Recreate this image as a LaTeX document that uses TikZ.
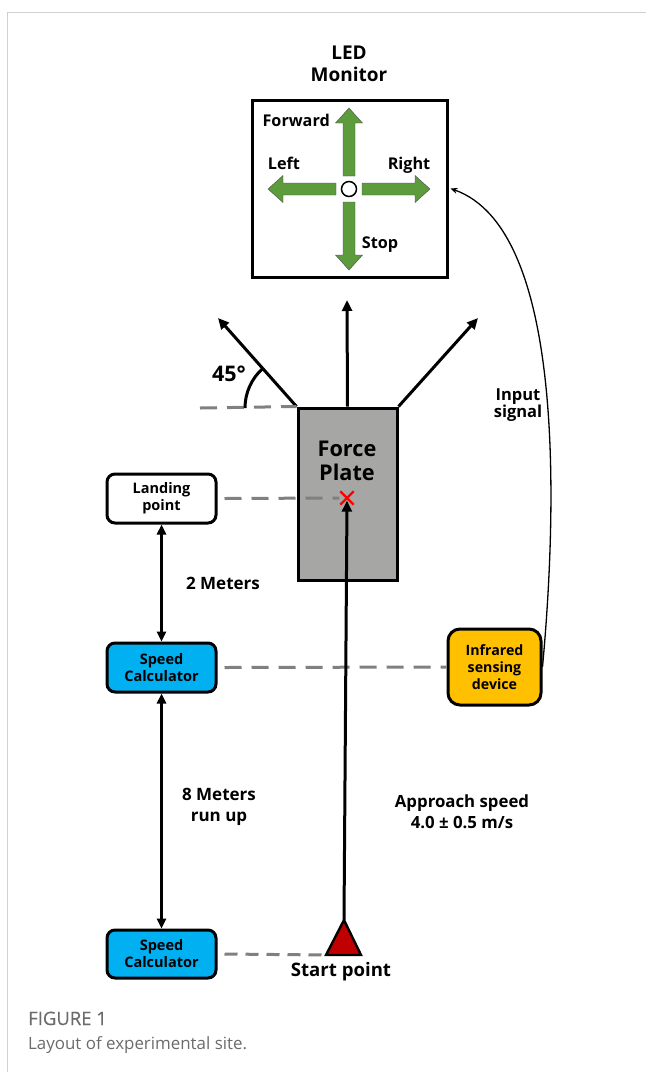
\documentclass[tikz,border=0pt]{standalone}
\usepackage{fontspec}
\setmainfont{Open Sans}
\usetikzlibrary{arrows.meta}
\definecolor{arrowgreen}{HTML}{5C9C3C}
\definecolor{plategray}{HTML}{A6A6A5}
\definecolor{speedblue}{HTML}{00B0F0}
\definecolor{irorange}{HTML}{FFC000}
\definecolor{startred}{HTML}{C00000}
\definecolor{dashgray}{HTML}{808080}
\definecolor{framegray}{HTML}{D0D0D0}
\definecolor{capgray}{HTML}{6B6B6B}
\tikzset{
  lbl/.style={font=\bfseries\fontsize{16.2}{18}\selectfont, inner sep=0pt, align=center},
  boxlbl/.style={font=\bfseries\fontsize{14.5}{17}\selectfont, align=center, inner sep=0pt},
  rbox/.style={draw, line width=3pt, rounded corners=8pt, minimum width=109pt, minimum height=49pt, boxlbl},
  dashline/.style={draw=dashgray, line width=3pt, dash pattern=on 17pt off 10pt},
  darrow/.style={line width=2.4pt, {Triangle[length=10pt,width=9pt]}-{Triangle[length=10pt,width=9pt]}},
  sarrow/.style={line width=3pt, -{Triangle[length=11pt,width=10pt]}},
  greenarrow/.style={fill=arrowgreen, draw=black!70, line width=0.4pt},
}
\begin{document}
\begin{tikzpicture}[x=1pt,y=-1pt]
\useasboundingbox (0,0) rectangle (646,1072);
% frame
\draw[framegray, line width=1pt] (7,1072) -- (7,12.5) -- (646,12.5);

% LED monitor
\node[lbl, font=\bfseries\fontsize{19}{22}\selectfont] (ledtitle) at (349,64) {LED\\Monitor};
\node[draw, line width=3pt, minimum width=195pt, minimum height=177pt, inner sep=0pt] (mon) at (349.5,188.5) {};
\node[draw, line width=1.5pt, circle, minimum size=15pt, inner sep=0pt, fill=white] (ctr) at (349,189) {};
% block arrows
\foreach \ang in {0,90,180,270}{
  \begin{scope}[shift={(349,189)}, rotate=\ang]
    \path[greenarrow] (13,-6) -- (66,-6) -- (66,-13.5) -- (81,0) -- (66,13.5) -- (66,6) -- (13,6) -- cycle;
  \end{scope}
}
\node[lbl, anchor=base east] (fwd) at (330,126) {Forward};
\node[lbl, anchor=base] (left) at (284,169) {Left};
\node[lbl, anchor=base] (right) at (409,169) {Right};
\node[lbl, anchor=base] (stop) at (380,248) {Stop};

% force plate
\node[draw, fill=plategray, line width=3pt, minimum width=99pt, minimum height=172pt, inner sep=0pt] (plate) at (347.5,494) {};
\node[lbl, font=\bfseries\fontsize{21.7}{24}\selectfont] (platelbl) at (347,461) {Force\\Plate};
\node[minimum size=13pt, inner sep=0pt] (cross) at (347,498) {};
\draw[red, line width=2.4pt] (cross.north west) -- (cross.south east) (cross.north east) -- (cross.south west);

% direction arrows from plate
\coordinate (tipL) at (218,318);
\coordinate (tipM) at (347,300);
\coordinate (tipR) at (478,318);
\draw[sarrow] (plate.north west) -- (tipL);
\draw[sarrow] (plate.north) -- (tipM);
\draw[sarrow] (plate.north east) -- (tipR);
\coordinate (dashL) at (200,408);
\draw[dashline] (dashL) -- (plate.north west);
\draw[line width=3pt] (245,408) arc[start angle=180, end angle=228.4, radius=53];
\node[lbl, font=\bfseries\fontsize{21.5}{22}\selectfont] (deg) at (229,374) {45°};

% left side boxes
\node[rbox, fill=white] (landing) at (161.5,498.5) {Landing\\point};
\node[rbox, fill=speedblue] (sc1) at (161.5,667.5) {Speed\\Calculator};
\node[rbox, fill=speedblue, minimum height=48pt] (sc2) at (161.5,954) {Speed\\Calculator};
\draw[darrow] (landing.south) -- (sc1.north);
\draw[darrow] (sc1.south) -- (sc2.north);
\node[lbl, font=\bfseries\fontsize{17}{21}\selectfont] (twom) at (223,583) {2 Meters};
\node[lbl, font=\bfseries\fontsize{17}{21}\selectfont] (eightm) at (219,807) {8 Meters\\run up};

% infrared
\node[rbox, fill=irorange, minimum width=93pt, minimum height=76pt, rounded corners=12pt, font=\bfseries\fontsize{14.2}{17}\selectfont] (ir) at (494.5,667) {Infrared\\sensing\\device};

% dashed links
\draw[dashline] ([xshift=7pt]landing.east) -- ([xshift=-1pt]cross.west);
\draw[dashline] ([xshift=7pt]sc1.east) -- (ir.west);

% start point
\coordinate (start) at (344,920);
\path[fill=startred, draw=black, line width=2.4pt, line join=miter] (start) -- (361,955) -- (326,955) -- cycle;
\node[lbl, font=\bfseries\fontsize{18.6}{22}\selectfont, anchor=base] (startlbl) at (341,976) {Start point};
\draw[dashline, dash pattern=on 13pt off 8pt] ([xshift=7pt]sc2.east) -- (326,955);
\draw[line width=3pt, -{Triangle[length=11pt,width=10pt]}] (start) -- ([yshift=4pt]cross.south);

\node[lbl, font=\bfseries\fontsize{16.8}{21}\selectfont] (approach) at (462,812) {Approach speed\\4.0 ± 0.5 m/s};

% input signal
\draw[line width=1.3pt, -{Stealth[length=7pt,width=6pt]}] (ir.east) .. controls (556,520) and (568,230) .. ([xshift=2pt]mon.east);
\node[lbl, font=\bfseries\fontsize{16.5}{16}\selectfont] (input) at (518,405) {Input\\signal};

% caption
\node[anchor=base west, inner sep=0pt, text=capgray, font=\fontsize{18.5}{20}\selectfont\addfontfeatures{FakeBold=0.4}] (fig) at (28,1025) {FIGURE 1};
\node[anchor=base west, inner sep=0pt, text=capgray, font=\fontsize{16.9}{20}\selectfont] (cap) at (28,1049) {Layout of experimental site.};
\end{tikzpicture}
\end{document}
